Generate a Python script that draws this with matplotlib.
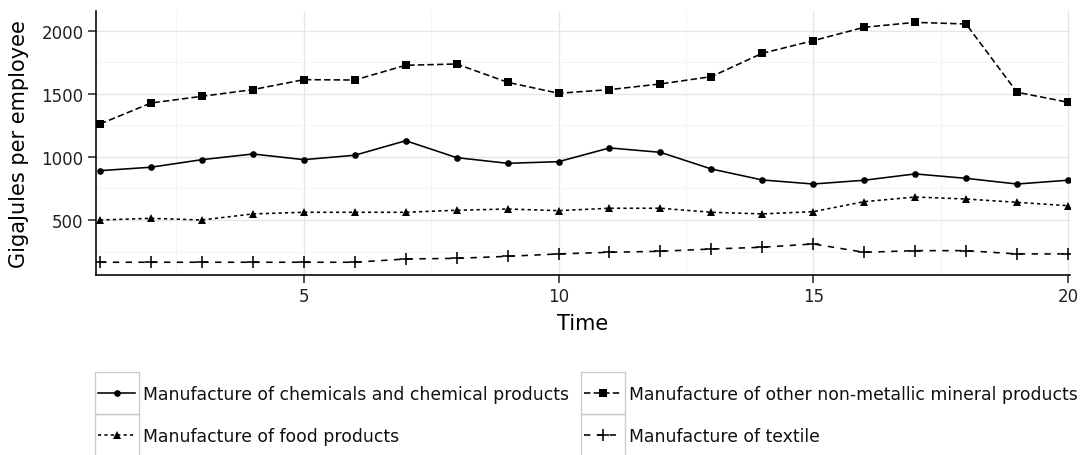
import matplotlib
matplotlib.use("Agg")
import matplotlib.pyplot as plt
from matplotlib.patches import Rectangle
from matplotlib.lines import Line2D

# Energy use per employee by manufacturing sector
time = list(range(1, 21))

chemicals = [891, 918, 978, 1023, 978, 1013, 1128, 994, 949, 962,
             1071, 1036, 904, 817, 785, 815, 865, 830, 785, 815]
food = [500, 513, 500, 548, 561, 561, 561, 577, 587, 574,
        593, 593, 561, 548, 566, 645, 682, 666, 640, 613]
non_metallic = [1261, 1427, 1480, 1533, 1612, 1609, 1726, 1736, 1591, 1504,
                1533, 1578, 1636, 1821, 1921, 2027, 2066, 2053, 1512, 1433]
textile = [165, 165, 165, 165, 165, 165, 191, 196, 212, 231,
           244, 252, 270, 284, 310, 244, 257, 257, 231, 231]

labels = ["Manufacture of chemicals and chemical products",
          "Manufacture of other non-metallic mineral products",
          "Manufacture of food products",
          "Manufacture of textile"]

x_ticks = [5, 10, 15, 20]
y_ticks = [500, 1000, 1500, 2000]

LW = 1.15
styles = {
    labels[0]: dict(ls="-", marker="o", ms=4.8, mew=0),
    labels[1]: dict(ls=(0, (4, 2)), marker="s", ms=5.6, mew=0),
    labels[2]: dict(ls=(0, (2, 2)), marker="^", ms=5.6, mew=0),
    labels[3]: dict(ls=(0, (4, 4)), marker="+", ms=9, mew=1.15),
}
series = {labels[0]: chemicals, labels[1]: non_metallic,
          labels[2]: food, labels[3]: textile}

W, H = 1087, 456
fig = plt.figure(figsize=(W / 100, H / 100), dpi=100)
ax = fig.add_axes([96 / W, 1 - 276 / H, 974 / W, 264 / H])

for name, vals in series.items():
    st = styles[name]
    ax.plot(time, vals, color="black", lw=LW, linestyle=st["ls"],
            marker=st["marker"], markersize=st["ms"], markeredgewidth=st["mew"],
            markeredgecolor="black", markerfacecolor="black", zorder=3)

ax.set_xlim(0.92, 20.04)
ax.set_ylim(64, 2156)
ax.set_xticks(x_ticks)
ax.set_yticks(y_ticks)
ax.set_xticks([2.5, 7.5, 12.5, 17.5], minor=True)
ax.set_yticks([250, 750, 1250, 1750], minor=True)
ax.grid(which="major", color="#e6e6e6", lw=1.0, zorder=0)
ax.grid(which="minor", color="#f3f3f3", lw=0.6, zorder=0)
ax.set_axisbelow(True)

for side in ("top", "right"):
    ax.spines[side].set_visible(False)
for side in ("left", "bottom"):
    ax.spines[side].set_linewidth(1.15)
    ax.spines[side].set_color("black")

ax.tick_params(which="major", length=5.5, width=1.1, color="#222222",
               labelsize=12, labelcolor="#222222", pad=3.5)
ax.tick_params(which="minor", length=0)

ax.set_xlabel("Time", fontsize=15)
ax.set_ylabel("GigaJules per employee", fontsize=15)
ax.xaxis.set_label_coords(0.5, -0.145)
ax.yaxis.set_label_coords(-0.069, 0.5)

# legend: two columns of keys with grey boxes, drawn in pixel space
lg = fig.add_axes([0, 0, 1, 1], facecolor="none")
lg.set_xlim(0, W)
lg.set_ylim(H, 0)
lg.axis("off")

key_w, key_h = 44, 42
cols = [95, 581]
rows = [373, 415]
for i, name in enumerate(labels):
    x0 = cols[i % 2]
    y0 = rows[i // 2]
    lg.add_patch(Rectangle((x0, y0), key_w, key_h, fill=False,
                           edgecolor="#cccccc", lw=1.0, clip_on=False))
    st = styles[name]
    yc = y0 + key_h / 2
    lg.add_line(Line2D([x0 + 3, x0 + key_w - 4], [yc, yc], color="black",
                       lw=LW, linestyle=st["ls"]))
    lg.add_line(Line2D([x0 + key_w / 2], [yc], color="black", lw=0,
                       marker=st["marker"], markersize=st["ms"],
                       markeredgewidth=st["mew"], markeredgecolor="black",
                       markerfacecolor="black"))
    lg.text(x0 + key_w + 4, yc + 1, name, fontsize=12.4, color="#111111",
            ha="left", va="center")

fig.savefig("out.png", dpi=100)
